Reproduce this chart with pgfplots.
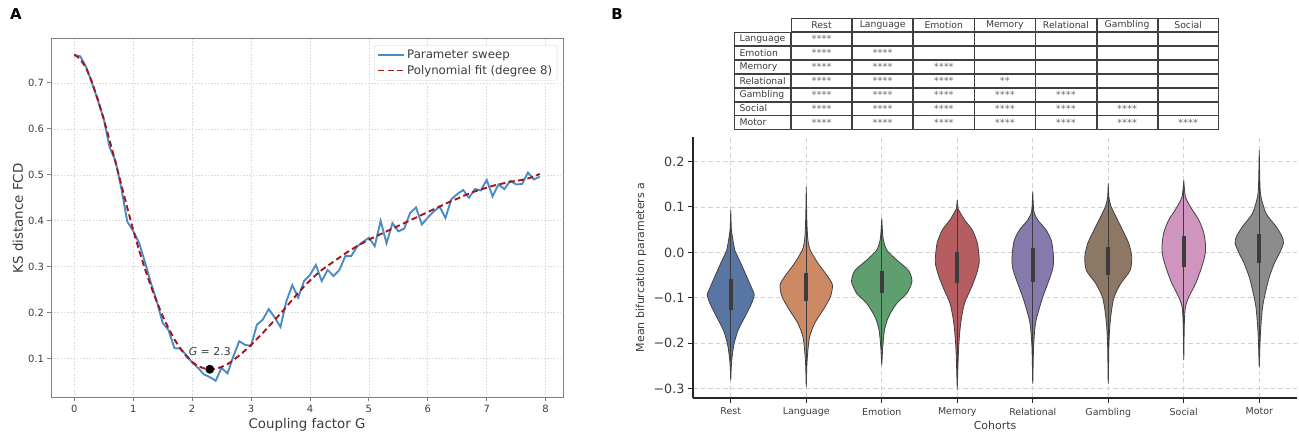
\documentclass[border=0pt]{standalone}
\usepackage{pgfplots}
\pgfplotsset{compat=1.18}
\usepackage{pgfplotstable}
\usetikzlibrary{matrix}
\usepackage{fontspec}
\setmainfont{DejaVu Sans}

\definecolor{sweepc}{RGB}{75,140,196}
\definecolor{fitc}{RGB}{165,20,25}
\definecolor{framec}{RGB}{128,128,128}
\definecolor{txtc}{RGB}{60,60,60}
\definecolor{vedge}{RGB}{65,65,65}
\definecolor{boxc}{RGB}{60,60,60}
\definecolor{stc}{RGB}{110,110,110}
\definecolor{cRest}{RGB}{89,117,164}
\definecolor{cLang}{RGB}{204,137,99}
\definecolor{cEmo}{RGB}{95,158,110}
\definecolor{cMem}{RGB}{181,93,96}
\definecolor{cRel}{RGB}{133,122,171}
\definecolor{cGam}{RGB}{141,120,102}
\definecolor{cSoc}{RGB}{208,149,191}
\definecolor{cMot}{RGB}{140,140,140}

% parameter sweep
\pgfplotstableread{
G d
0.0 0.760
0.1 0.758
0.2 0.735
0.3 0.700
0.4 0.662
0.5 0.622
0.6 0.560
0.7 0.530
0.8 0.470
0.9 0.398
1.0 0.378
1.1 0.352
1.2 0.310
1.3 0.265
1.4 0.225
1.5 0.178
1.6 0.162
1.7 0.123
1.8 0.122
1.9 0.108
2.0 0.092
2.1 0.080
2.2 0.066
2.3 0.060
2.4 0.052
2.5 0.080
2.6 0.068
2.7 0.105
2.8 0.138
2.9 0.130
3.0 0.128
3.1 0.174
3.2 0.185
3.3 0.208
3.4 0.190
3.5 0.169
3.6 0.225
3.7 0.260
3.8 0.233
3.9 0.269
4.0 0.282
4.1 0.304
4.2 0.269
4.3 0.293
4.4 0.280
4.5 0.293
4.6 0.323
4.7 0.323
4.8 0.344
4.9 0.354
5.0 0.363
5.1 0.345
5.2 0.400
5.3 0.351
5.4 0.395
5.5 0.377
5.6 0.383
5.7 0.417
5.8 0.429
5.9 0.392
6.0 0.407
6.1 0.420
6.2 0.431
6.3 0.406
6.4 0.447
6.5 0.458
6.6 0.467
6.7 0.450
6.8 0.469
6.9 0.466
7.0 0.489
7.1 0.453
7.2 0.479
7.3 0.469
7.4 0.487
7.5 0.479
7.6 0.480
7.7 0.505
7.8 0.490
7.9 0.496
}\sweep

% polynomial fit
\pgfplotstableread{
G d
0.0 0.762
0.1 0.752
0.2 0.733
0.3 0.702
0.4 0.664
0.5 0.621
0.6 0.575
0.7 0.527
0.8 0.478
0.9 0.428
1.0 0.380
1.1 0.336
1.2 0.295
1.3 0.258
1.4 0.224
1.5 0.193
1.6 0.166
1.7 0.142
1.8 0.122
1.9 0.106
2.0 0.093
2.1 0.084
2.2 0.079
2.3 0.077
2.4 0.078
2.5 0.082
2.6 0.088
2.7 0.097
2.8 0.107
2.9 0.118
3.0 0.130
3.1 0.143
3.2 0.156
3.3 0.170
3.4 0.184
3.5 0.198
3.6 0.213
3.7 0.228
3.8 0.243
3.9 0.257
4.0 0.270
4.1 0.282
4.2 0.293
4.3 0.302
4.4 0.311
4.5 0.320
4.6 0.329
4.7 0.337
4.8 0.345
4.9 0.352
5.0 0.359
5.1 0.365
5.2 0.371
5.3 0.377
5.4 0.383
5.5 0.389
5.6 0.395
5.7 0.401
5.8 0.407
5.9 0.413
6.0 0.419
6.1 0.425
6.2 0.431
6.3 0.437
6.4 0.443
6.5 0.448
6.6 0.454
6.7 0.459
6.8 0.464
6.9 0.468
7.0 0.472
7.1 0.476
7.2 0.479
7.3 0.482
7.4 0.485
7.5 0.487
7.6 0.489
7.7 0.492
7.8 0.496
7.9 0.502
}\fit

% violin outlines: value v, signed half width w (category units), right side down, left side up
\pgfplotstableread{
v w
0.093 0
0.070 0.004
0.049 0.009
0.020 0.036
0.005 0.053
-0.024 0.133
-0.054 0.213
-0.083 0.289
-0.094 0.311
-0.112 0.276
-0.142 0.187
-0.171 0.098
-0.201 0.044
-0.230 0.018
-0.255 0.006
-0.281 0
-0.255 -0.006
-0.230 -0.018
-0.201 -0.044
-0.171 -0.098
-0.142 -0.187
-0.112 -0.276
-0.094 -0.311
-0.083 -0.289
-0.054 -0.213
-0.024 -0.133
0.005 -0.053
0.020 -0.036
0.049 -0.009
0.070 -0.004
0.093 0
}\tRest
\pgfplotstableread{
v w
0.145 0
0.100 0.004
0.060 0.010
0.027 0.022
0.005 0.053
-0.024 0.156
-0.054 0.289
-0.072 0.347
-0.098 0.320
-0.127 0.222
-0.156 0.111
-0.186 0.044
-0.215 0.022
-0.245 0.009
-0.270 0.004
-0.296 0
-0.270 -0.004
-0.245 -0.009
-0.215 -0.022
-0.186 -0.044
-0.156 -0.111
-0.127 -0.222
-0.098 -0.320
-0.072 -0.347
-0.054 -0.289
-0.024 -0.156
0.005 -0.053
0.027 -0.022
0.060 -0.010
0.100 -0.004
0.145 0
}\tLang
\pgfplotstableread{
v w
0.075 0
0.050 0.008
0.027 0.022
0.005 0.067
-0.017 0.200
-0.040 0.356
-0.064 0.400
-0.090 0.333
-0.112 0.200
-0.142 0.089
-0.171 0.036
-0.208 0.013
-0.245 0
-0.208 -0.013
-0.171 -0.036
-0.142 -0.089
-0.112 -0.200
-0.090 -0.333
-0.064 -0.400
-0.040 -0.356
-0.017 -0.200
0.005 -0.067
0.027 -0.022
0.050 -0.008
0.075 0
}\tEmo
\pgfplotstableread{
v w
0.115 0
0.095 0.013
0.086 0.044
0.071 0.098
0.049 0.200
0.020 0.267
-0.010 0.289
-0.025 0.289
-0.050 0.250
-0.080 0.180
-0.110 0.100
-0.140 0.060
-0.170 0.036
-0.210 0.018
-0.250 0.009
-0.296 0
-0.250 -0.009
-0.210 -0.018
-0.170 -0.036
-0.140 -0.060
-0.110 -0.100
-0.080 -0.180
-0.050 -0.250
-0.025 -0.289
-0.010 -0.289
0.020 -0.267
0.049 -0.200
0.071 -0.098
0.086 -0.044
0.095 -0.013
0.115 0
}\tMem
\pgfplotstableread{
v w
0.134 0
0.100 0.009
0.086 0.022
0.071 0.067
0.049 0.178
0.027 0.244
0.005 0.267
-0.021 0.276
-0.040 0.258
-0.068 0.200
-0.098 0.133
-0.127 0.080
-0.156 0.036
-0.200 0.013
-0.240 0.006
-0.289 0
-0.240 -0.006
-0.200 -0.013
-0.156 -0.036
-0.127 -0.080
-0.098 -0.133
-0.068 -0.200
-0.040 -0.258
-0.021 -0.276
0.005 -0.267
0.027 -0.244
0.049 -0.178
0.071 -0.067
0.086 -0.022
0.100 -0.009
0.134 0
}\tRel
\pgfplotstableread{
v w
0.152 0
0.120 0.009
0.100 0.040
0.071 0.124
0.049 0.190
0.020 0.271
-0.010 0.311
-0.040 0.289
-0.068 0.167
-0.098 0.078
-0.127 0.044
-0.160 0.022
-0.200 0.009
-0.250 0.004
-0.289 0
-0.250 -0.004
-0.200 -0.009
-0.160 -0.022
-0.127 -0.044
-0.098 -0.078
-0.068 -0.167
-0.040 -0.289
-0.010 -0.311
0.020 -0.271
0.049 -0.190
0.071 -0.124
0.100 -0.040
0.120 -0.009
0.152 0
}\tGam
\pgfplotstableread{
v w
0.159 0
0.123 0.022
0.100 0.089
0.071 0.200
0.042 0.267
0.012 0.289
-0.010 0.276
-0.040 0.222
-0.069 0.156
-0.098 0.067
-0.120 0.022
-0.150 0.009
-0.190 0.004
-0.237 0
-0.190 -0.004
-0.150 -0.009
-0.120 -0.022
-0.098 -0.067
-0.069 -0.156
-0.040 -0.222
-0.010 -0.276
0.012 -0.289
0.042 -0.267
0.071 -0.200
0.100 -0.089
0.123 -0.022
0.159 0
}\tSoc
\pgfplotstableread{
v w
0.225 0
0.150 0.009
0.123 0.022
0.086 0.089
0.057 0.222
0.035 0.302
0.020 0.320
-0.002 0.267
-0.024 0.200
-0.054 0.133
-0.083 0.089
-0.120 0.044
-0.171 0.018
-0.210 0.008
-0.252 0
-0.210 -0.008
-0.171 -0.018
-0.120 -0.044
-0.083 -0.089
-0.054 -0.133
-0.024 -0.200
-0.002 -0.267
0.020 -0.320
0.035 -0.302
0.057 -0.222
0.086 -0.089
0.123 -0.022
0.150 -0.009
0.225 0
}\tMot

% #1 position, #2 table, #3 colour, #4 q1, #5 q3, #6 low, #7 high
\newcommand{\violin}[7]{%
  \addplot[fill=#3, draw=vedge, line width=0.8bp, smooth, tension=0.45]
    table[x expr=#1+\thisrow{w}, y=v] {#2};
  \addplot[draw=boxc, line width=0.9bp] coordinates {(#1,#6) (#1,#7)};
  \addplot[draw=boxc, line width=4bp] coordinates {(#1,#4) (#1,#5)};
}

\newcommand{\tf}{\fontsize{9.3}{10}\selectfont}
\newcommand{\st}{{\color{stc}\fontsize{10}{10}\selectfont ****}}
\newcommand{\sst}{{\color{stc}\fontsize{10}{10}\selectfont **}}

\begin{document}
\begin{tikzpicture}
\path[use as bounding box] (0,0) rectangle (1299bp,436bp);

% ---------- panel A ----------
\begin{axis}[
  at={(51bp,38bp)}, anchor=south west,
  scale only axis, width=512bp, height=359bp,
  xmin=-0.395, xmax=8.295, ymin=0.0145, ymax=0.7955,
  xtick={0,1,2,3,4,5,6,7,8},
  xticklabels={0,1,2,3,4,5,6,7,8},
  ytick={0.1,0.2,0.3,0.4,0.5,0.6,0.7},
  yticklabels={0.1,0.2,0.3,0.4,0.5,0.6,0.7},
  tick pos=left, tick align=outside, major tick length=3.5bp,
  tick style={draw=framec, line width=0.8bp},
  axis line style={draw=framec, line width=1bp},
  ticklabel style={font=\fontsize{10}{12}\selectfont, text=txtc},
  grid=major,
  grid style={draw=gray!28, dash pattern=on 1.6bp off 1.6bp, line width=0.6bp},
  xlabel={Coupling factor G}, ylabel={KS distance FCD},
  label style={font=\fontsize{13.4}{15}\selectfont, text=txtc},
  xlabel style={at={(axis description cs:0.5,-0.075)}, anchor=center},
  ylabel style={at={(axis description cs:-0.0645,0.5)}, anchor=center},
  legend style={at={(axis description cs:0.989,0.983)}, anchor=north east,
    draw=gray!35, rounded corners=2bp, font=\fontsize{11.8}{14}\selectfont,
    text=txtc, inner xsep=3bp, inner ysep=2.5bp, row sep=1.5bp},
  legend cell align=left,
  legend image code/.code={\draw[#1] (0bp,0bp) -- (26bp,0bp);},
]
\addplot[draw=sweepc, line width=1.9bp] table[x=G, y=d] {\sweep};
\addlegendentry{Parameter sweep}
\addplot[draw=fitc, line width=1.9bp, dash pattern=on 6bp off 3.5bp] table[x=G, y=d] {\fit};
\addlegendentry{Polynomial fit (degree 8)}
\addplot[only marks, mark=*, mark size=4.2bp, black, forget plot,
  nodes near coords={\textit{G} = 2.3},
  every node near coord/.append style={anchor=center, yshift=18bp,
    font=\fontsize{11}{13}\selectfont, text=txtc}]
  coordinates {(2.3,0.077)};
\end{axis}

% ---------- panel B ----------
\begin{axis}[
  at={(693bp,38bp)}, anchor=south west,
  scale only axis, width=604bp, height=261bp,
  xmin=-0.5, xmax=7.5, ymin=-0.3205, ymax=0.254,
  axis lines=left, axis line style={-, draw=black!85, line width=1.2bp},
  xtick={0,1,2,3,4,5,6,7},
  xticklabels={Rest,Language,Emotion,Memory,Relational,Gambling,Social,Motor},
  ytick={-0.3,-0.2,-0.1,0,0.1,0.2},
  yticklabels={−0.3,−0.2,−0.1,0.0,0.1,0.2},
  tick align=outside, major tick length=5bp,
  tick style={draw=black!85, line width=1bp},
  xticklabel style={font=\fontsize{9.5}{11}\selectfont, text=txtc, yshift=-1.5bp},
  yticklabel style={font=\fontsize{12.8}{14}\selectfont, text=txtc},
  grid=major,
  grid style={draw=gray!35, dash pattern=on 4.5bp off 3bp, line width=0.8bp},
  xlabel={Cohorts}, ylabel={Mean bifurcation parameters a},
  xlabel style={at={(axis description cs:0.5,-0.1034)}, anchor=center,
    font=\fontsize{11}{13}\selectfont, text=txtc},
  ylabel style={at={(axis description cs:-0.0861,0.5)}, anchor=center,
    font=\fontsize{11}{13}\selectfont, text=txtc},
]
\violin{0}{\tRest}{cRest}{-0.127}{-0.059}{-0.240}{0.060}
\violin{1}{\tLang}{cLang}{-0.107}{-0.046}{-0.250}{0.120}
\violin{2}{\tEmo}{cEmo}{-0.090}{-0.040}{-0.215}{0.055}
\violin{3}{\tMem}{cMem}{-0.068}{0.001}{-0.270}{0.095}
\violin{4}{\tRel}{cRel}{-0.065}{0.009}{-0.260}{0.115}
\violin{5}{\tGam}{cGam}{-0.049}{0.012}{-0.265}{0.135}
\violin{6}{\tSoc}{cSoc}{-0.033}{0.036}{-0.210}{0.140}
\violin{7}{\tMot}{cMot}{-0.023}{0.040}{-0.230}{0.200}
\end{axis}

% ---------- significance table ----------
\matrix (T) [matrix of nodes, anchor=north west, inner sep=0pt,
  column sep=0pt, row sep=0pt, nodes in empty cells,
  nodes={draw=black!75, line width=0.8bp, outer sep=0pt, inner sep=0pt,
    minimum width=60.3bp, minimum height=13.1bp, font=\tf, text=txtc, anchor=center},
  column 1/.style={nodes={minimum width=56bp, text width=46bp, align=left}},
] at (734bp,418bp) {
|[draw=none]| & Rest & Language & Emotion & Memory & Relational & Gambling & Social \\
Language & \st & & & & & & \\
Emotion & \st & \st & & & & & \\
Memory & \st & \st & \st & & & & \\
Relational & \st & \st & \st & \sst & & & \\
Gambling & \st & \st & \st & \st & \st & & \\
Social & \st & \st & \st & \st & \st & \st & \\
Motor & \st & \st & \st & \st & \st & \st & \st \\
};

\node[font=\bfseries\fontsize{15}{17}\selectfont] at (16bp,422bp) {A};
\node[font=\bfseries\fontsize{15}{17}\selectfont] at (617bp,422bp) {B};
\end{tikzpicture}
\end{document}
